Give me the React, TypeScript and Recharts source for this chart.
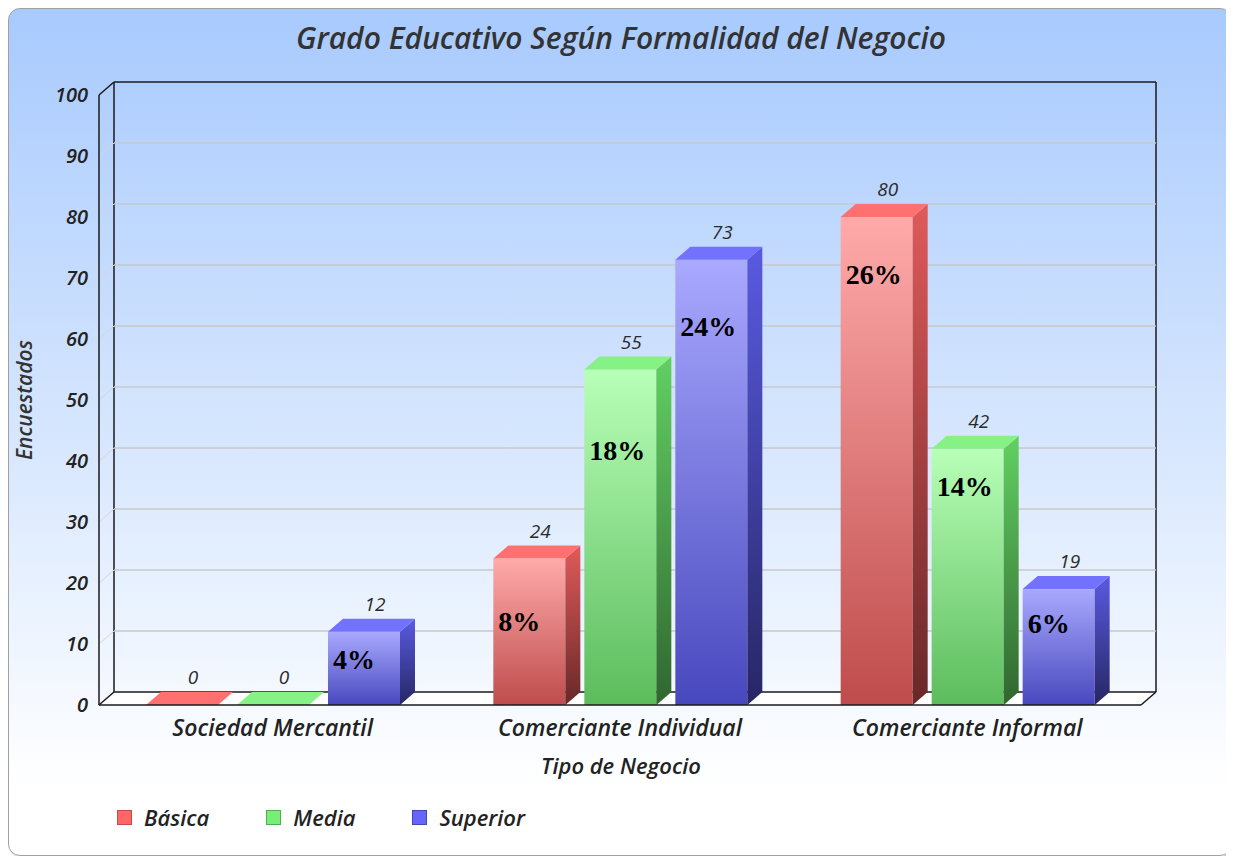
import React from "react";
import { BarChart, Bar, XAxis, YAxis, CartesianGrid, LabelList, Legend } from "recharts";

const categories = ["Sociedad Mercantil", "Comerciante Individual", "Comerciante Informal"];
const basica = [0, 24, 80];
const media = [0, 55, 42];
const superior = [12, 73, 19];
const basicaPct = ["", "8%", "26%"];
const mediaPct = ["", "18%", "14%"];
const superiorPct = ["4%", "24%", "6%"];
const yTicks = [0, 10, 20, 30, 40, 50, 60, 70, 80, 90, 100];

const data = categories.map((name, i) => ({
  name,
  basica: basica[i],
  media: media[i],
  superior: superior[i],
  basicaPct: basicaPct[i],
  mediaPct: mediaPct[i],
  superiorPct: superiorPct[i],
}));

// where the percent text sits below each bar's top, px
const pctDrop = {
  basica: [0, 62, 57],
  media: [0, 80, 37],
  superior: [27, 66, 34],
};

const W = 1224;
const H = 848;
const X_AXIS_H = 30;
const MARGIN = { top: 87, right: 91, bottom: 151 - X_AXIS_H, left: 0 };
const Y_AXIS_W = 91;
const DX = 15;
const DY = 13;
const FONT = "'Open Sans', sans-serif";

const L = Y_AXIS_W;
const R = W - MARGIN.right;
const T = MARGIN.top;
const B = H - MARGIN.bottom - X_AXIS_H;

const SERIES = [
  { key: "basica", name: "Básica", legend: "#ff6666", border: "#c84a4a", frontTop: "#ffaaaa", frontBot: "#bf4c4c", sideTop: "#e05a5a", sideBot: "#682828", top: "#ff7070" },
  { key: "media", name: "Media", legend: "#77ee77", border: "#4caf4c", frontTop: "#b8ffb8", frontBot: "#5cbc5c", sideTop: "#62d062", sideBot: "#306630", top: "#86f286" },
  { key: "superior", name: "Superior", legend: "#6666ff", border: "#4444bb", frontTop: "#a9a9ff", frontBot: "#4848be", sideTop: "#5a5ae2", sideBot: "#262664", top: "#7272ff" },
];

const makeShape = (s: typeof SERIES[number]) => (props: any) => {
  const { x, y, width, height } = props;
  if (x == null || y == null) return null;
  const h = Math.max(0, height || 0);
  const bottom = y + h;
  return (
    <g>
      {h > 0 && <rect x={x} y={y} width={width} height={h} fill={`url(#${s.key}-front)`} />}
      {h > 0 && (
        <polygon
          points={`${x + width},${y} ${x + width + DX},${y - DY} ${x + width + DX},${bottom - DY} ${x + width},${bottom}`}
          fill={`url(#${s.key}-side)`}
        />
      )}
      <polygon
        points={`${x},${y} ${x + DX},${y - DY} ${x + width + DX},${y - DY} ${x + width},${y}`}
        fill={s.top}
      />
    </g>
  );
};

const boxOf = (props: any) => {
  const vb = props.viewBox || {};
  return {
    x: props.x ?? vb.x,
    y: props.y ?? vb.y,
    width: props.width ?? vb.width,
    height: props.height ?? vb.height,
  };
};

const valueLabel = (props: any) => {
  const { x, y, width } = boxOf(props);
  if (x == null) return null;
  return (
    <text x={x + width / 2 + 11} y={y - 21} textAnchor="middle" fontFamily={FONT} fontStyle="italic" fontSize={19} fill="#2a2a2a">
      {props.value}
    </text>
  );
};

const pctLabel = (key: "basica" | "media" | "superior") => (props: any) => {
  const { x, y } = boxOf(props);
  if (x == null || !props.value) return null;
  const drop = pctDrop[key][props.index] || 30;
  return (
    <text x={x + 5} y={y + drop + 10} fontFamily="'Liberation Serif', 'Times New Roman', serif" fontWeight="bold" fontSize={28} fill="#000">
      {props.value}
    </text>
  );
};

const gridLine = (p: any) => {
  const y = p.y1;
  const isEdge = Math.abs(y - T) < 1 || Math.abs(y - B) < 1;
  return (
    <g key={p.key}>
      {p.index === 0 && (
        <g>
          <polygon points={`${L},${B} ${R},${B} ${R + DX},${B - DY} ${L + DX},${B - DY}`} fill="#ffffff" />
          <line x1={L + DX} y1={T - DY} x2={R + DX} y2={T - DY} stroke="#1a1a1a" strokeWidth={1.5} />
          <line x1={L + DX} y1={T - DY} x2={L + DX} y2={B - DY} stroke="#1a1a1a" strokeWidth={1.5} />
          <line x1={R + DX} y1={T - DY} x2={R + DX} y2={B - DY} stroke="#1a1a1a" strokeWidth={1.5} />
          <line x1={L + DX} y1={B - DY} x2={R + DX} y2={B - DY} stroke="#1a1a1a" strokeWidth={1.5} />
          <line x1={L} y1={T} x2={L + DX} y2={T - DY} stroke="#1a1a1a" strokeWidth={1.5} />
          <line x1={L} y1={B} x2={L + DX} y2={B - DY} stroke="#1a1a1a" strokeWidth={1.5} />
          <line x1={R} y1={B} x2={R + DX} y2={B - DY} stroke="#1a1a1a" strokeWidth={1.5} />
        </g>
      )}
      {!isEdge && (
        <g>
          <line x1={L + DX} y1={y - DY} x2={R + DX} y2={y - DY} stroke="#c9c9c9" strokeWidth={1.5} />
          <line x1={L} y1={y} x2={L + DX} y2={y - DY} stroke="#d6d6d6" strokeWidth={1} />
        </g>
      )}
    </g>
  );
};

const legendContent = () => (
  <div style={{ display: "flex", alignItems: "center", fontFamily: FONT, fontStyle: "italic", fontWeight: 600, fontSize: 22, color: "#222" }}>
    {SERIES.map((s) => (
      <div key={s.key} style={{ display: "flex", alignItems: "center", marginRight: 57 }}>
        <div style={{ width: 13, height: 13, background: s.legend, border: `1px solid ${s.border}`, marginRight: 12 }} />
        <span>{s.name}</span>
      </div>
    ))}
  </div>
);

export default function App() {
  return (
    <div style={{ position: "relative", width: W, height: H }}>
      <div
        style={{
          position: "absolute",
          inset: 0,
          borderRadius: 12,
          border: "1px solid #a0a0a0",
          boxShadow: "1px 1px 2px rgba(0,0,0,0.25)",
          background: "linear-gradient(to bottom, #a8cafe 0%, #d6e6fe 50%, #ffffff 92%)",
        }}
      />
      <div style={{ position: "absolute", left: 0, top: 0 }}>
        <BarChart width={W} height={H} data={data} margin={MARGIN} barSize={72} barGap={19}>
          <defs>
            {SERIES.map((s) => (
              <React.Fragment key={s.key}>
                <linearGradient id={`${s.key}-front`} x1="0" y1="0" x2="0" y2="1">
                  <stop offset="0%" stopColor={s.frontTop} />
                  <stop offset="100%" stopColor={s.frontBot} />
                </linearGradient>
                <linearGradient id={`${s.key}-side`} x1="0" y1="0" x2="0" y2="1">
                  <stop offset="0%" stopColor={s.sideTop} />
                  <stop offset="100%" stopColor={s.sideBot} />
                </linearGradient>
              </React.Fragment>
            ))}
          </defs>
          <text x={613} y={41} textAnchor="middle" fontFamily={FONT} fontStyle="italic" fontWeight={600} fontSize={30} fill="#333">
            Grado Educativo Según Formalidad del Negocio
          </text>
          <text
            x={0}
            y={0}
            transform="translate(24, 392) rotate(-90)"
            textAnchor="middle"
            fontFamily={FONT}
            fontStyle="italic"
            fontWeight={600}
            fontSize={21}
            fill="#333"
          >
            Encuestados
          </text>
          <text x={613} y={766} textAnchor="middle" fontFamily={FONT} fontStyle="italic" fontWeight={600} fontSize={22} fill="#222">
            Tipo de Negocio
          </text>
          <CartesianGrid horizontal={gridLine} vertical={false} />
          <XAxis
            dataKey="name"
            height={X_AXIS_H}
            tickSize={0}
            tickMargin={15}
            axisLine={{ stroke: "#1a1a1a", strokeWidth: 1.5 }}
            tick={{ fontFamily: FONT, fontStyle: "italic", fontWeight: 600, fontSize: 23, fill: "#222" }}
          />
          <YAxis
            width={Y_AXIS_W}
            domain={[0, 100]}
            ticks={yTicks}
            interval={0}
            tickSize={0}
            tickMargin={11}
            axisLine={{ stroke: "#1a1a1a", strokeWidth: 1.5 }}
            tick={{ fontFamily: FONT, fontStyle: "italic", fontWeight: 600, fontSize: 20, fill: "#222" }}
          />
          {SERIES.map((s) => (
            <Bar key={s.key} dataKey={s.key} name={s.name} fill={s.legend} shape={makeShape(s)} isAnimationActive={false}>
              <LabelList dataKey={s.key} content={valueLabel} />
              <LabelList dataKey={`${s.key}Pct`} content={pctLabel(s.key as any)} />
            </Bar>
          ))}
          <Legend
            layout="horizontal"
            verticalAlign="middle"
            align="center"
            content={legendContent}
            wrapperStyle={{ left: 109, top: 794, width: "auto", height: 28 }}
          />
        </BarChart>
      </div>
    </div>
  );
}
